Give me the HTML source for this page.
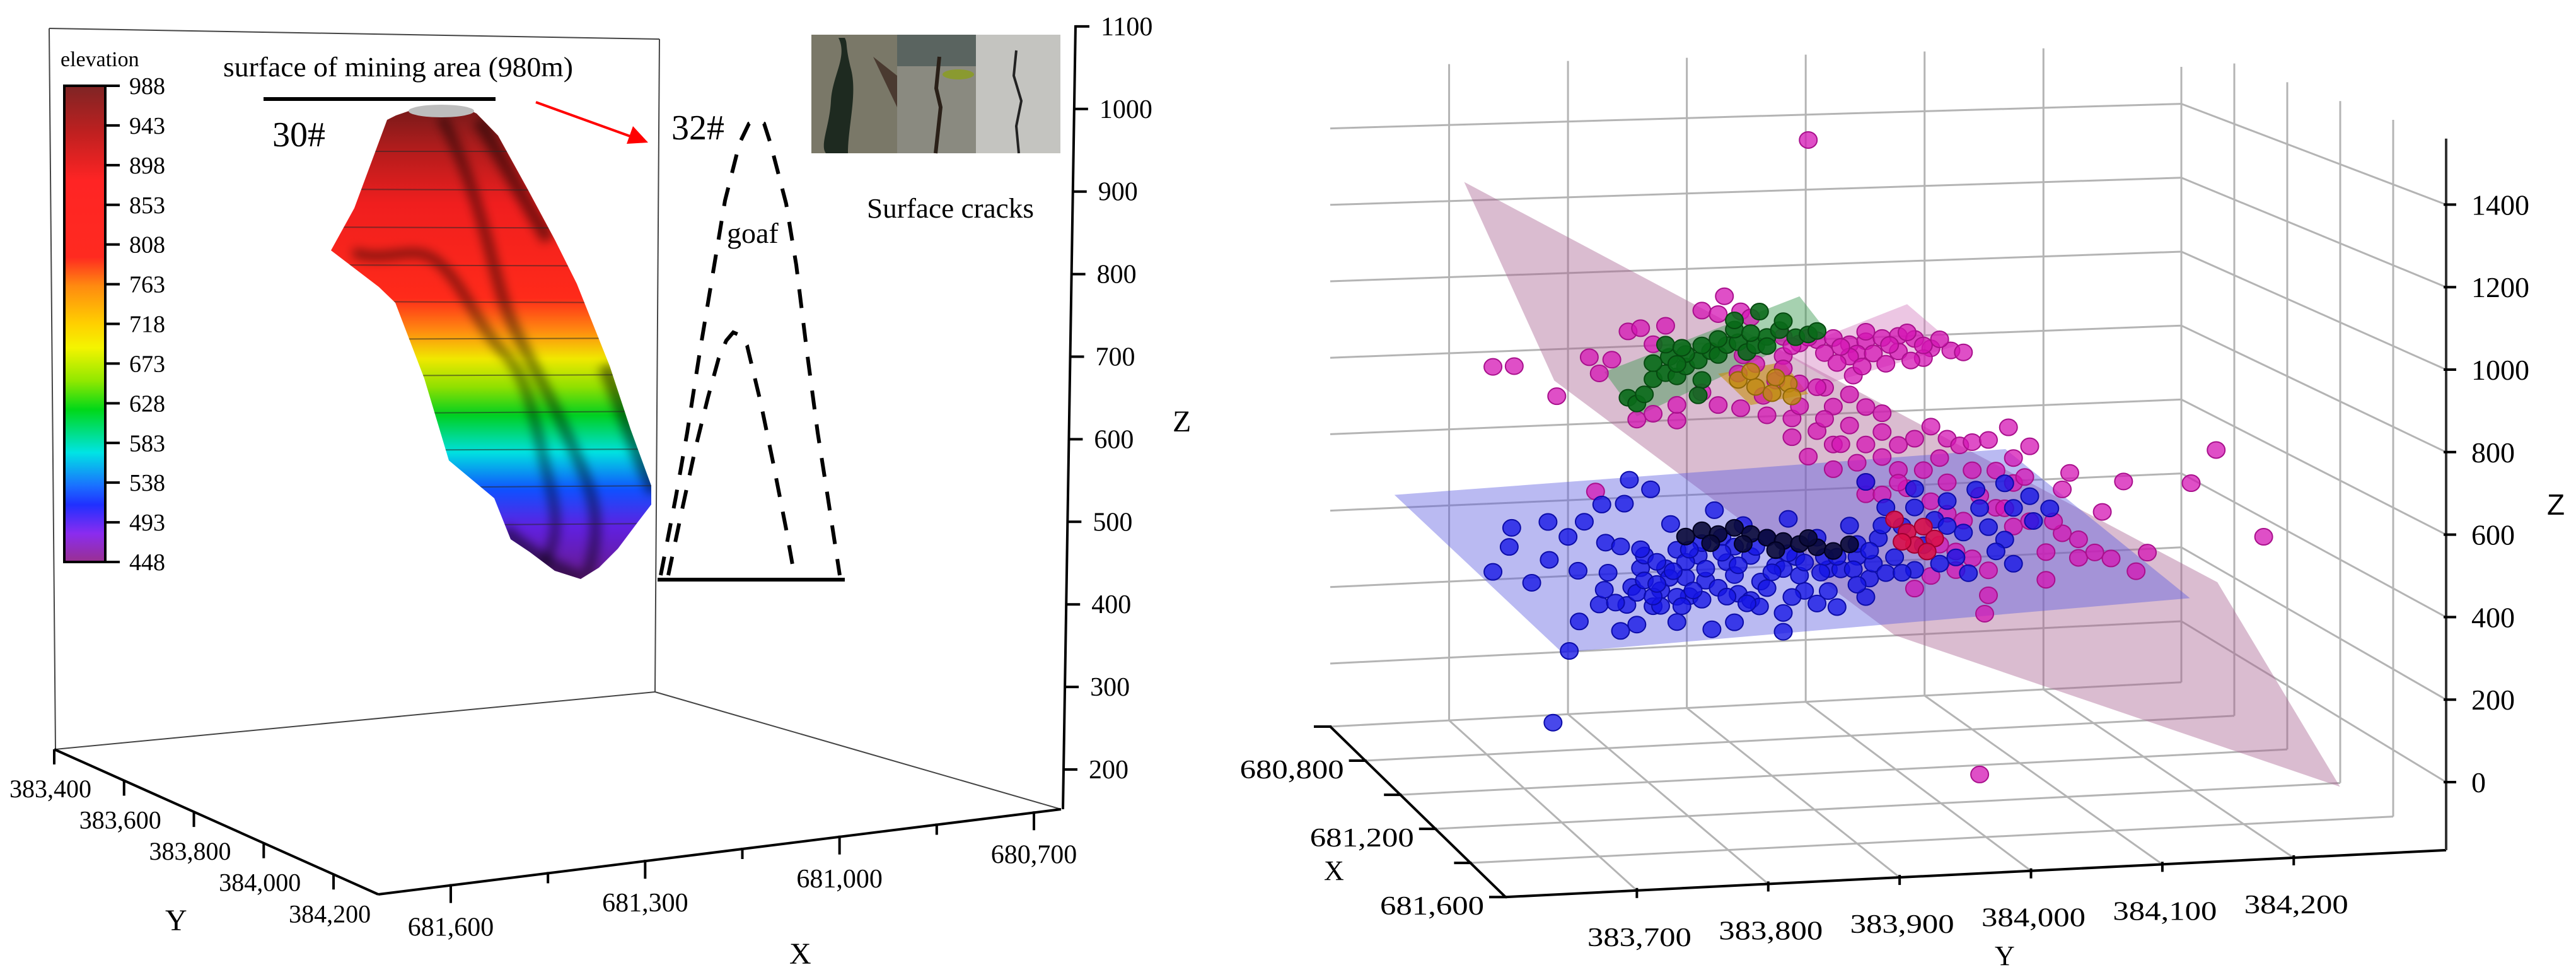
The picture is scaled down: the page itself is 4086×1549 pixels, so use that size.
<!DOCTYPE html>
<html><head><meta charset="utf-8"><style>
html,body{margin:0;padding:0;background:#fff;}
svg{display:block;}
svg text{font-family:"Liberation Serif",serif;fill:#000;}
</style></head><body>
<svg id="chart" xmlns="http://www.w3.org/2000/svg" width="4086" height="1549" viewBox="0 0 4086 1549" font-family="Liberation Serif, serif">
<defs>
<linearGradient id="cbar" x1="0" y1="136" x2="0" y2="891" gradientUnits="userSpaceOnUse">
<stop offset="0" stop-color="#7e2424"/><stop offset="0.1" stop-color="#c02020"/><stop offset="0.2" stop-color="#ff2424"/><stop offset="0.36" stop-color="#ff2a20"/><stop offset="0.42" stop-color="#ff8a10"/><stop offset="0.5" stop-color="#ffd000"/><stop offset="0.55" stop-color="#f4f400"/><stop offset="0.62" stop-color="#90e800"/><stop offset="0.68" stop-color="#00d818"/><stop offset="0.77" stop-color="#00e4e4"/><stop offset="0.84" stop-color="#1a70ff"/><stop offset="0.88" stop-color="#2030ff"/><stop offset="0.94" stop-color="#8a2cf0"/><stop offset="1" stop-color="#9a3090"/>
</linearGradient>
<linearGradient id="surf" x1="0" y1="175" x2="0" y2="918" gradientUnits="userSpaceOnUse">
<stop offset="0" stop-color="#7a1a1a"/><stop offset="0.08" stop-color="#b01c1c"/><stop offset="0.2" stop-color="#f01e1e"/><stop offset="0.4" stop-color="#ff2a1a"/><stop offset="0.47" stop-color="#ff8a10"/><stop offset="0.53" stop-color="#f0e800"/><stop offset="0.59" stop-color="#90e000"/><stop offset="0.65" stop-color="#00d020"/><stop offset="0.73" stop-color="#00e0e0"/><stop offset="0.81" stop-color="#1050ff"/><stop offset="0.89" stop-color="#6020e0"/><stop offset="1" stop-color="#6a1a8a"/>
</linearGradient>
<clipPath id="surfclip"><polygon points="628,183 660,172 700,168 740,172 756,180 790,215 837,300 880,380 915,450 967,580 1000,680 1033,770 1033,800 1010,830 980,870 950,900 921,918 880,905 840,875 810,855 800,830 784,790 712,730 673,600 627,480 601,455 525,397 562,330 614,190"/></clipPath>
<filter id="blur8"><feGaussianBlur stdDeviation="8"/></filter>
</defs>

<g>
<g stroke="#444" stroke-width="2" fill="none">
<line x1="78" y1="45" x2="1046" y2="62"/>
<line x1="78" y1="45" x2="88" y2="1188"/>
<line x1="1046" y1="62" x2="1039" y2="1097"/>
<line x1="88" y1="1188" x2="1039" y2="1097"/>
<line x1="1039" y1="1097" x2="1683" y2="1283"/>
</g>
<rect x="102" y="136" width="65" height="755" fill="url(#cbar)" stroke="#000" stroke-width="4"/>
<text x="96" y="105" font-size="34">elevation</text>
<g id="cbticks"></g>

<g>
<polygon points="628,183 660,172 700,168 740,172 756,180 790,215 837,300 880,380 915,450 967,580 1000,680 1033,770 1033,800 1010,830 980,870 950,900 921,918 880,905 840,875 810,855 800,830 784,790 712,730 673,600 627,480 601,455 525,397 562,330 614,190" fill="url(#surf)"/>
<g clip-path="url(#surfclip)">
<g fill="none" stroke="rgba(0,0,0,0.5)" filter="url(#blur8)">
<path d="M700,185 C760,300 780,420 800,480 S860,600 900,690 S960,820 930,918" stroke-width="16"/>
<path d="M560,400 C620,420 660,380 700,420 S760,520 800,560 S850,680 870,760 S880,860 860,900" stroke-width="14"/>
<path d="M760,190 C800,260 840,330 870,380" stroke-width="22"/>
<path d="M960,580 C990,650 1010,720 1040,780" stroke-width="24"/>
<path d="M800,840 C840,880 880,900 921,918" stroke-width="22"/>
</g>
<g stroke="rgba(40,40,40,0.55)" stroke-width="2">
<line x1="500" y1="240" x2="1050" y2="240"/><line x1="500" y1="300" x2="1050" y2="302"/><line x1="500" y1="360" x2="1050" y2="362"/><line x1="500" y1="420" x2="1050" y2="422"/><line x1="500" y1="478" x2="1050" y2="480"/><line x1="500" y1="538" x2="1050" y2="536"/><line x1="500" y1="596" x2="1050" y2="594"/><line x1="500" y1="656" x2="1050" y2="652"/><line x1="500" y1="714" x2="1050" y2="712"/><line x1="500" y1="774" x2="1050" y2="770"/><line x1="500" y1="834" x2="1050" y2="830"/>
</g>
</g>
<ellipse cx="700" cy="176" rx="52" ry="10" fill="#bdbdbd"/>
</g>

<text x="354" y="121" font-size="44" textLength="555" lengthAdjust="spacingAndGlyphs">surface of mining area (980m)</text>
<line x1="418" y1="157" x2="786" y2="157" stroke="#000" stroke-width="6"/>
<text x="432" y="232" font-size="56">30#</text>
<g>
<line x1="850" y1="162" x2="1005" y2="218" stroke="#f00" stroke-width="4"/>
<polygon points="1028,226 994,228 1004,200" fill="#f00"/>
</g>
<text x="1065" y="221" font-size="56">32#</text>
<g fill="none" stroke="#000" stroke-width="6" stroke-dasharray="30,24">
<polyline points="1048,912 1072,788 1090,686 1110,558 1133,420 1150,318 1173,227 1188,196 1200,191 1212,196 1222,227 1247,323 1263,420 1280,558 1297,686 1313,788 1332,912"/>
<polyline points="1060,912 1083,803 1103,711 1123,630 1140,568 1152,540 1163,527 1175,532 1185,548 1207,640 1227,737 1247,839 1260,912"/>
</g>
<line x1="1043" y1="919" x2="1340" y2="919" stroke="#000" stroke-width="6"/>
<text x="1153" y="385" font-size="46">goaf</text>
<g>
<rect x="1287" y="55" width="136" height="188" fill="#7a7868"/>
<path d="M1330,60 C1345,90 1320,120 1318,160 S1300,230 1310,243 L1345,243 C1345,200 1360,150 1350,110 S1345,70 1340,60 Z" fill="#1e2a20"/>
<path d="M1385,90 L1423,170 L1423,120 Z" fill="#4a3a30"/>
<rect x="1423" y="55" width="125" height="188" fill="#8a8a80"/>
<rect x="1423" y="55" width="125" height="50" fill="#5a6460"/>
<path d="M1490,90 L1485,140 L1492,170 L1484,243" stroke="#2a2018" stroke-width="6" fill="none"/>
<ellipse cx="1520" cy="118" rx="25" ry="8" fill="#8a9a30"/>
<rect x="1548" y="55" width="134" height="188" fill="#c4c4c0"/>
<path d="M1612,80 L1608,120 L1620,160 L1612,200 L1616,243" stroke="#222" stroke-width="4" fill="none"/>
</g>
<text x="1375" y="345" font-size="44" textLength="265" lengthAdjust="spacingAndGlyphs">Surface cracks</text>
<g id="laxes"></g>
<text x="1860" y="684" font-size="48">Z</text>
<text x="262" y="1475" font-size="48">Y</text>
<text x="1252" y="1528" font-size="48">X</text>
</g>

<g id="rpanel"></g>
<text x="4040" y="816" font-size="46" style="font-family:'Liberation Sans',sans-serif">Z</text>
<text x="2100" y="1395" font-size="44">X</text>
<text x="3164" y="1530" font-size="44">Y</text>
</svg>
<script>
const NS='http://www.w3.org/2000/svg';
const svg=document.getElementById('chart');
function mk(tag,attrs,parent){const e=document.createElementNS(NS,tag);if(tag==='text')e.setAttribute('font-family','Liberation Serif, serif');for(const k in attrs)e.setAttribute(k,attrs[k]);(parent||svg).appendChild(e);return e;}

/* ---------- LEFT PANEL DATA ---------- */
const cbValues=[988,943,898,853,808,763,718,673,628,583,538,493,448];
const leftZTicks=[200,300,400,500,600,700,800,900,1000,1100];
const leftYTicks=[383400,383600,383800,384000,384200];
const leftXMajor=[681600,681300,681000,680700];
const leftXMinor=[681450,681150,680850];

const cbY=v=>136+(988-v)/540*755;
const cbG=document.getElementById('cbticks');
cbValues.forEach(v=>{
  const y=cbY(v);
  const t=mk('line',{x1:167,y1:y,x2:190,y2:y,stroke:'#000','stroke-width':4},cbG);
  
  
  const l=mk('text',{x:205,y:y+13,'font-size':38},cbG);
  
  
  l.textContent=v;
});

const lax=document.getElementById('laxes');
const lzY=v=>1220-(v-200)*1.309;
const lzX=y=>1706-(y-40)*0.0161;
const zl=mk('line',{x1:1706,y1:40,x2:1686,y2:1283,stroke:'#000','stroke-width':4},lax);


leftZTicks.forEach(v=>{
  const y=lzY(v),x=lzX(y);
  const t=mk('line',{x1:x,y1:y,x2:x+22,y2:y,stroke:'#000','stroke-width':4},lax);
  
  
  const l=mk('text',{x:x+40,y:y+14,'font-size':42},lax);
  
  
  l.textContent=v;
});
const yAx=mk('line',{x1:86,y1:1188,x2:600,y2:1418,stroke:'#000','stroke-width':4},lax);


const lyPos=v=>{const f=(v-383400)/800*0.862;return [86+514*f,1188+230*f];};
leftYTicks.forEach(v=>{
  const [x,y]=lyPos(v);
  const t=mk('line',{x1:x,y1:y,x2:x,y2:y+24,stroke:'#000','stroke-width':4},lax);
  
  
  const l=mk('text',{x:x-6,y:y+76,'font-size':40,'text-anchor':'middle'},lax);
  
  
  l.textContent=v.toLocaleString('en-US');
});
const xAx=mk('line',{x1:600,y1:1418,x2:1683,y2:1283,stroke:'#000','stroke-width':4},lax);


const lxPos=v=>{const x=715+(681600-v)/900*925;return [x,1418-(x-600)*0.1247];};
leftXMajor.forEach(v=>{
  const [x,y]=lxPos(v);
  const t=mk('line',{x1:x,y1:y-2,x2:x,y2:y+28,stroke:'#000','stroke-width':4},lax);
  
  
  const l=mk('text',{x:x,y:y+80,'font-size':42,'text-anchor':'middle'},lax);
  
  
  l.textContent=v.toLocaleString('en-US');
});
leftXMinor.forEach(v=>{
  const [x,y]=lxPos(v);
  const t=mk('line',{x1:x,y1:y-2,x2:x,y2:y+16,stroke:'#000','stroke-width':4},lax);
  
  
});

/* ---------- RIGHT PANEL DATA ---------- */
const zTicks=[0,200,400,600,800,1000,1200,1400];
const yTicks=[383700,383800,383900,384000,384100,384200];
const xTicks=[680600,680800,681000,681200,681400,681600];
const xLabelled=[680800,681200,681600];
const Z_MIN=-165, Z_MAX=1560;
const pointX=681100;

const blueY=[383660,383673,383675,383691,383704,383705,383720,383728,383721,383729,383733,383745,383747,383752,383750,383765,383762,383767,383769,383771,383778,383781,383786,383788,383794,383798,383802,383807,383814,383817,383824,383827,383830,383835,383837,383843,383847,383853,383856,383860,383866,383874,383879,383886,383892,383896,383902,383909,383919,383928,383935,383945,383951,383958,383961,383968,383974,383981,383987,383997,384004,384013,384023,384030,384036,384046,384056,384069,384076,384089,384092,384105,383708,383775,383794,383807,383749,383758,383919,383997,383781,383801,383814,383827,383840,383853,383866,383879,383892,383905,383925,383938,383951,383964,383788,383811,
383778,383791,383804,383817,383830,383843,383856,383870,383883,383896,383909,383922,383935,383948,383961,383974,383791,383820,383847,383873,383899,383928,383958,383987,384017,384040,384062,384076,383807,383853,383892,383775,383762,383863,383951,383997,383971,384023,384049,384069];
const blueZ=[419,479,526,388,537,443,498,413,215,287,534,327,575,405,480,575,469,323,634,367,413,444,608,317,356,410,520,455,385,338,438,469,375,253,550,482,419,457,339,510,432,367,476,405,286,521,425,339,471,391,295,498,419,606,363,463,540,414,491,584,441,504,550,407,469,576,480,447,526,554,491,521,39,352,317,338,363,330,306,380,382,386,424,328,356,386,322,350,396,378,422,389,451,400,341,314,
460,427,402,454,405,443,410,454,389,435,410,383,421,388,433,375,372,352,333,305,325,336,317,374,393,366,418,385,275,268,239,273,259,314,349,537,495,487,529,589];
const darkY=[383814,383827,383840,383853,383866,383879,383892,383905,383919,383932,383834,383860,383886,383912,383945];
const darkZ=[487,501,490,504,487,476,466,457,447,436,468,463,444,471,451];
const redY=[383981,383991,384004,383997,384013,383987,384007];
const redZ=[509,476,488,443,457,452,425];
const magY=[383660,383677,383711,383737,383745,383755,383768,383778,383788,383798,383827,383840,383845,383858,383866,383742,383775,383788,383807,383858,383879,383899,383905,383925,383932,383948,383912,383899,383919,383932,383945,383958,383971,383984,383997,384010,384023,384017,384033,384043,384056,384072,383971,383984,384004,384023,384043,384062,384076,384085,384121,384147,384164,384218,384238,384276,384049,383912,383892,383919,383932,383945,383958,383971,383984,383997,384010,384026,383905,383925,383951,383964,383984,384004,383892,383945,384049,384062,384076,384089,384102,384115,384128,384141,384183,384056,384043,384030,384017,384056,384053,384102,383997,384010,384030,383958,383971,383945,383876,383886,383892,383856,383870,383860,383840,383827,383807,383958,383971,383991,384010,384023,384036,383951,383932,
383899,383912,383938,383958,383977,383991,384004,384017,384036,383935,383955,383974,383994,383919,383905,383925,383938,383958,383984,384076,384089,384069,384108,384128,384154,384174,384115];
const magZ=[926,926,848,942,901,934,1003,1010,969,1014,1049,1039,1083,1044,1028,608,783,796,777,802,782,772,859,846,798,874,675,725,738,703,749,700,730,696,710,739,707,659,689,696,700,730,667,633,630,597,625,622,589,603,609,507,582,571,653,427,-143,1468,977,966,970,953,959,966,970,961,936,929,959,933,929,928,931,912,929,922,560,528,479,491,411,457,393,405,399,371,403,422,441,308,262,341,333,363,375,794,777,827,831,868,898,889,911,934,812,845,816,575,573,586,551,518,499,655,641,
953,973,947,983,948,978,944,958,923,907,896,901,907,848,802,768,703,606,601,652,680,526,488,440,388,353,568];
const greenY=[383768,383775,383781,383788,383798,383807,383814,383824,383834,383840,383847,383856,383863,383870,383879,383889,383892,383902,383912,383919,383801,383814,383827,383840,383853,383788,383798,383811,383827,383824,383807,383873,383853,383866,383879];
const greenZ=[838,823,845,882,896,887,911,925,947,937,961,967,942,958,978,994,1016,975,981,989,936,942,962,977,999,922,967,958,876,838,918,1042,1022,989,955];
const orangeY=[383856,383870,383883,383896,383866,383886,383899];
const orangeZ=[873,854,837,859,893,876,827];

const pinkPlaneY=[383637,384239,384337,383981,383709];
const pinkPlaneZ=[1385,316,-221,218,887];
const bluePlaneX=[680600,680600,681600,681600];
const bluePlaneY=[383654,384168,384121,383643];
const bluePlaneZ=[434,486,470,400];
const greenPlaneY=[383749,383905,383925,383775];
const greenPlaneZ=[904,1077,995,791];
const wingPlaneY=[383892,383991,384030,383932];
const wingPlaneZ=[937,1049,940,860];
const orangePlaneY=[383840,383892,383912,383866];
const orangePlaneZ=[890,914,832,809];

function P(X,Y,Z){
  const xf=(X-680600)/1000, yf=(Y-383600)/716;
  const bx=2110+1350*yf, by=1052-67*yf, bs=0.606-0.02*yf;
  const fx=2388+1492*yf, fy=1310-70*yf, fs=0.68-0.026*yf;
  const x=bx+(fx-bx)*xf, y0=by+(fy-by)*xf, s=bs+(fs-bs)*xf;
  return [x, y0-Z*s];
}
const XB=680600, XF=681600, YL=383600, YR=384316;
const rp=document.getElementById('rpanel');
function seg(a,b,stroke,w,name){
  const l=mk('line',{x1:a[0],y1:a[1],x2:b[0],y2:b[1],stroke:stroke,'stroke-width':w},rp);
  
  
  return l;
}
const GRID='#b4b4b4';
zTicks.forEach(z=>seg(P(XB,YL,z),P(XB,YR,z),GRID,3,'back-wall-gridline'));
yTicks.forEach(y=>seg(P(XB,y,Z_MIN),P(XB,y,Z_MAX),GRID,3,'back-wall-gridline'));
seg(P(XB,YR,Z_MIN),P(XB,YR,Z_MAX-60),GRID,3,'back-corner-line');
zTicks.forEach(z=>seg(P(XB,YR,z),P(XF,YR,z),GRID,3,'right-wall-gridline'));
xTicks.slice(1,5).forEach(x=>seg(P(x,YR,Z_MIN),P(x,YR,Z_MAX),GRID,3,'right-wall-gridline'));
seg(P(XB,YL,Z_MIN),P(XB,YR,Z_MIN),GRID,3,'floor-edge');
xTicks.slice(1,5).forEach(x=>seg(P(x,YL,Z_MIN),P(x,YR,Z_MIN),GRID,3,'floor-gridline'));
yTicks.forEach(y=>seg(P(XB,y,Z_MIN),P(XF,y,Z_MIN),GRID,3,'floor-gridline'));

function plane(xs,ys,zs,fill,op,name){
  const pts=ys.map((y,i)=>P(xs?xs[i]:pointX,y,zs[i]).join(',')).join(' ');
  const p=mk('polygon',{points:pts,fill:fill,'fill-opacity':op},rp);
  
  
}
plane(null,pinkPlaneY,pinkPlaneZ,'#a8608f',0.42,'pink-fit-plane');
plane(bluePlaneX,bluePlaneY,bluePlaneZ,'#5a5ae0',0.42,'blue-fit-plane');
plane(null,wingPlaneY,wingPlaneZ,'#d070b8',0.4,'pink-wing-plane');
plane(null,greenPlaneY,greenPlaneZ,'#3a9a50',0.45,'green-fit-plane');
plane(null,orangePlaneY,orangePlaneZ,'#c89010',0.6,'orange-fit-plane');

function scatter(ys,zs,fill,stroke,op,name){
  ys.forEach((y,i)=>{
    const [cx,cy]=P(pointX,y,zs[i]);
    const c=mk('ellipse',{cx:cx,cy:cy,rx:14,ry:13,fill:fill,'fill-opacity':op,stroke:stroke,'stroke-width':2},rp);
    
    
  });
}
scatter(magY,magZ,'#d414b4','#a8108c',0.75,'magenta-point');
scatter(blueY,blueZ,'#1414e6','#0c0ca8',0.78,'blue-point');
scatter(darkY,darkZ,'#0a0a3a','#000020',0.9,'dark-point');
scatter(redY,redZ,'#d8104a','#a00030',0.9,'red-point');
scatter(greenY,greenZ,'#0a6a1a','#064a10',0.9,'green-point');
scatter(orangeY,orangeZ,'#c08a10','#906808',0.8,'orange-point');

const AX='#000';
seg(P(XB,YL,Z_MIN),P(XF,YL,Z_MIN),AX,4,'x-axis-right');
seg(P(XF,YL,Z_MIN),P(XF,YR,Z_MIN),AX,4,'y-axis-right');
seg(P(XF,YR,Z_MIN),P(XF,YR,Z_MAX),'#333',4,'z-axis-right');
zTicks.forEach(z=>{
  const [x,y]=P(XF,YR,z);
  seg([x-4,y],[x+16,y],AX,4,'z-tick-right');
  const l=mk('text',{x:x+40,y:y+16,'font-size':46},rp);
  
  
  l.textContent=z;
});
yTicks.forEach(v=>{
  const [x,y]=P(XF,v,Z_MIN);
  seg([x,y-4],[x,y+12],AX,4,'y-tick-right');
  const l=mk('text',{x:x+4,y:y+88,'font-size':42,'text-anchor':'middle',textLength:165,lengthAdjust:'spacingAndGlyphs'},rp);
  
  
  l.textContent=v.toLocaleString('en-US');
});
xTicks.forEach(v=>{
  const [x,y]=P(v,YL,Z_MIN);
  seg([x-26,y],[x+2,y],AX,4,'x-tick-right');
  if(xLabelled.indexOf(v)>=0){
    const l=mk('text',{x:x-34,y:y+28,'font-size':42,'text-anchor':'end',textLength:165,lengthAdjust:'spacingAndGlyphs'},rp);
    
    
    l.textContent=v.toLocaleString('en-US');
  }
});
</script>
</body></html>
